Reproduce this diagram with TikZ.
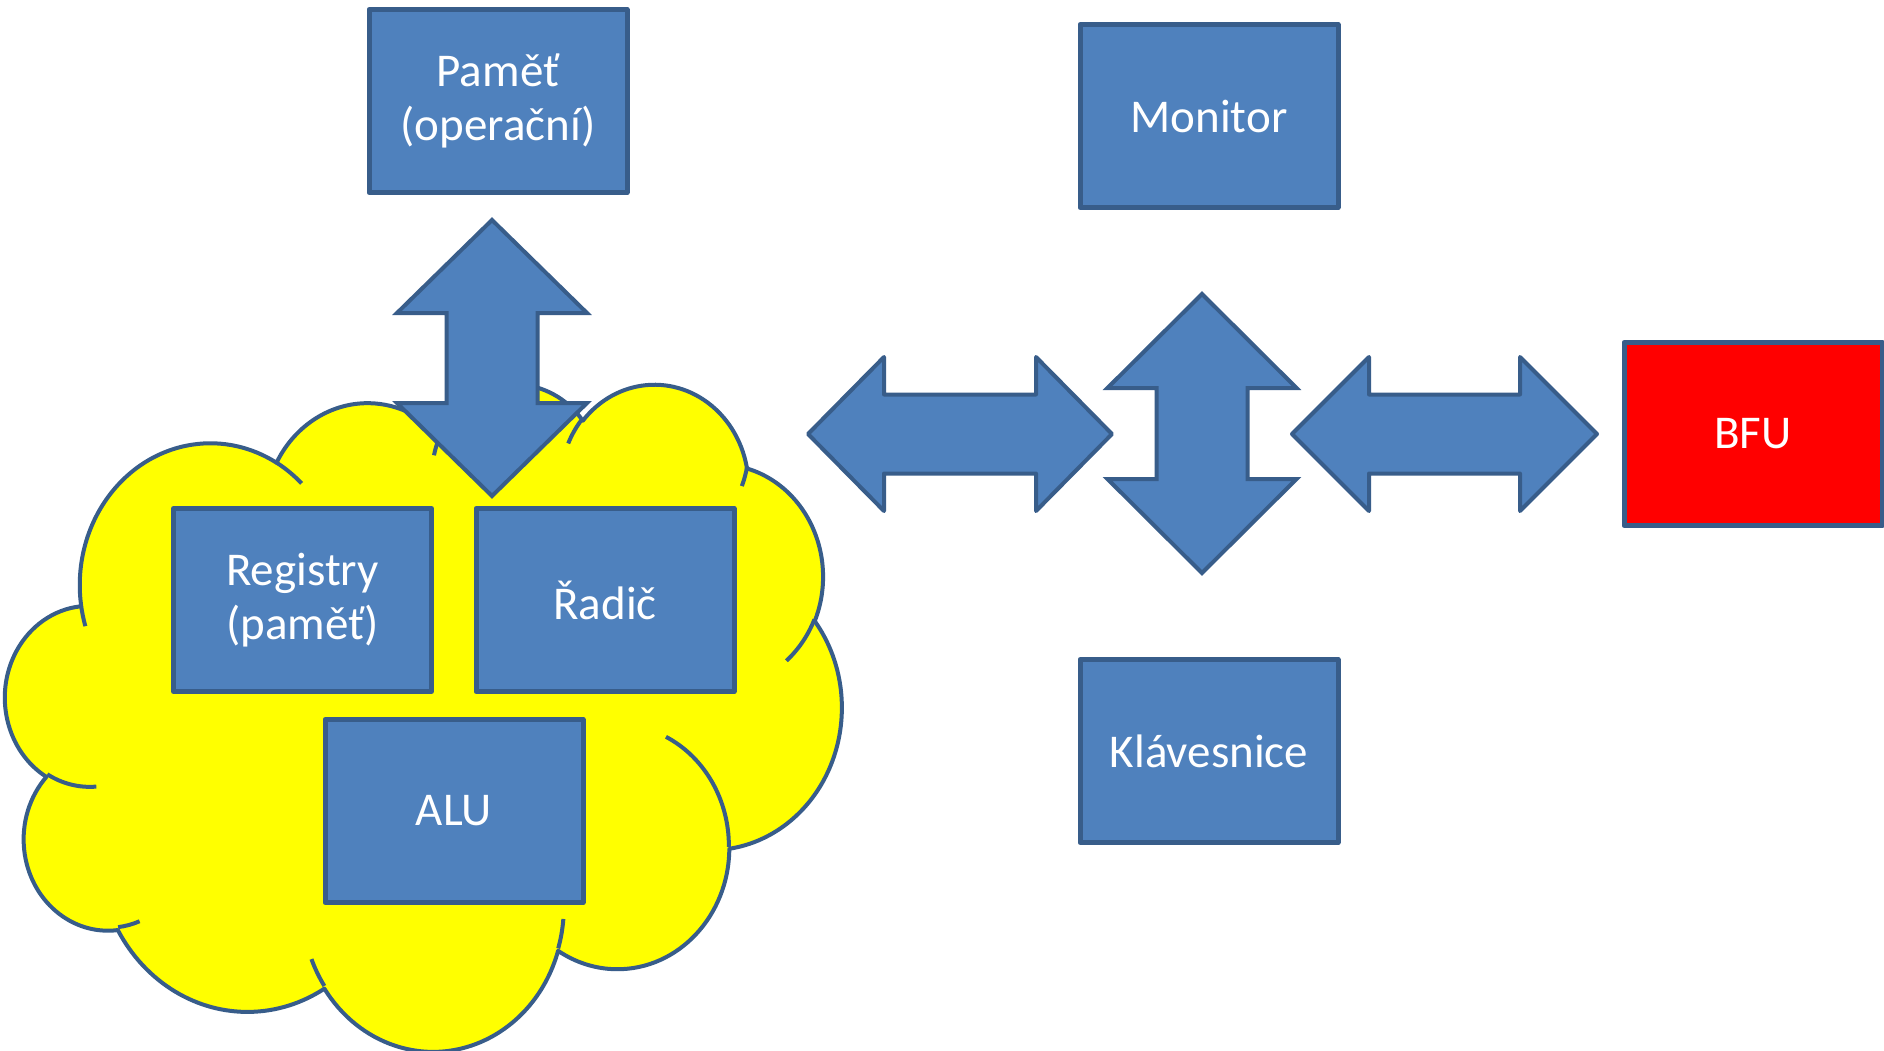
\documentclass[tikz,border=0pt]{standalone}
\usepackage{fontspec}
\setmainfont{Carlito}
\definecolor{boxfill}{HTML}{4F81BD}
\definecolor{boxline}{HTML}{385D8A}
\definecolor{cloudfill}{HTML}{FFFF00}
\definecolor{userfill}{HTML}{FF0000}

% Cloud outline: elliptic arcs given by radii (in thousands of shape units)
% and start/sweep angles measured as visual angles, converted here to the
% parametric angles that TikZ arcs expect.
\def\cldsx{19.352}
\def\cldsy{15.44}
\newcommand\cldprep[5]{%
  \pgfmathsetmacro\cldta{#4}%
  \pgfmathsetmacro\cldtb{#4+#5}%
  \pgfmathsetmacro\cldpa{-(\cldta+mod(atan2(#2*sin(\cldta),#3*cos(\cldta))-\cldta+540,360)-180)}%
  \pgfmathsetmacro\cldpb{-(\cldtb+mod(atan2(#2*sin(\cldtb),#3*cos(\cldtb))-\cldtb+540,360)-180)}%
  \pgfmathsetmacro\cldrx{#2*\cldsx}%
  \pgfmathsetmacro\cldry{#3*\cldsy}%
  \expandafter\xdef\csname #1\endcsname{arc[start angle=\cldpa, end angle=\cldpb, x radius=\cldrx pt, y radius=\cldry pt]}%
}

\tikzset{
  unit/.style={draw=boxline, fill=boxfill, line width=5pt, line join=round,
    minimum width=258pt, minimum height=183pt, inner sep=0pt,
    text=white, align=center, font=\fontsize{47}{54}\selectfont},
  blockarrow/.style={draw=boxline, fill=boxfill, line width=4pt, line join=miter},
  cloudshape/.style={draw=boxline, line width=4pt, line join=round},
  % double-headed block arrows: half length, head length, head half-width, shaft half-width
  pics/vdarrow/.style n args={4}{code={
    \draw[blockarrow] (0,-#1) -- (#3,{-#1+#2}) -- (#4,{-#1+#2}) -- (#4,{#1-#2})
      -- (#3,{#1-#2}) -- (0,#1) -- (-#3,{#1-#2}) -- (-#4,{#1-#2})
      -- (-#4,{-#1+#2}) -- (-#3,{-#1+#2}) -- cycle;
  }},
  pics/hdarrow/.style n args={4}{code={
    \draw[blockarrow, line join=round] (-#1,0) -- ({-#1+#2},-#3) -- ({-#1+#2},-#4) -- ({#1-#2},-#4)
      -- ({#1-#2},-#3) -- (#1,0) -- ({#1-#2},#3) -- ({#1-#2},#4)
      -- ({-#1+#2},#4) -- ({-#1+#2},#3) -- cycle;
  }},
}

\begin{document}
\begin{tikzpicture}[x=1pt, y=-1pt]
\useasboundingbox (0,0) rectangle (1884,1050);
\fill[white] (0,0) rectangle (1884,1050);

% outer arcs of the cloud
\cldprep{cldarcA}{6.753}{9.190}{-190.48748}{123.78053}
\cldprep{cldarcB}{5.333}{7.267}{-144.10238}{89.94523}
\cldprep{cldarcC}{4.365}{5.945}{-145.80792}{99.72302}
\cldprep{cldarcD}{4.857}{6.595}{-130.98607}{117.24173}
\cldprep{cldarcE}{5.333}{7.273}{-78.70888}{109.02692}
\cldprep{cldarcF}{6.775}{9.220}{-46.26725}{130.26900}
\cldprep{cldarcG}{5.785}{7.867}{0.62502}{114.03333}
\cldprep{cldarcH}{6.752}{9.215}{22.45160}{115.17255}
\cldprep{cldarcI}{7.720}{10.543}{66.24263}{75.71102}
\cldprep{cldarcJ}{4.360}{5.918}{-274.94208}{146.73557}
\cldprep{cldarcK}{4.345}{5.945}{-246.82850}{152.51885}
% inner strokes of the cloud
\cldprep{cldinA}{4.345}{5.945}{86.74200}{26.42950}
\cldprep{cldinB}{4.360}{5.918}{73.61047}{11.44747}
\cldprep{cldinC}{6.752}{9.215}{137.62415}{14.08110}
\cldprep{cldinD}{6.752}{9.215}{6.45327}{15.99835}
\cldprep{cldinE}{5.785}{7.867}{-70.29235}{70.91737}
\cldprep{cldinF}{5.333}{7.273}{30.31803}{27.75150}
\cldprep{cldinG}{4.857}{6.595}{13.74433}{14.85890}
\cldprep{cldinH}{4.857}{6.595}{-149.18145}{18.19537}
\cldprep{cldinI}{4.365}{5.945}{-163.49427}{17.68635}
\cldprep{cldinJ}{6.753}{9.190}{-66.70695}{12.31935}
\cldprep{cldinK}{6.753}{9.190}{157.65435}{11.85817}

\begin{scope}[shift={(5.5,382.4)}, x=19.352pt, y=-15.44pt]
  \filldraw[cloudshape, fill=cloudfill] (3.900,14.370)
    \cldarcA \cldarcB \cldarcC \cldarcD \cldarcE \cldarcF
    \cldarcG \cldarcH \cldarcI \cldarcJ \cldarcK -- cycle;
  \draw[cloudshape]
    (4.693,26.177) \cldinA
    (6.928,34.899) \cldinB
    (16.478,39.090) \cldinC
    (28.827,34.751) \cldinD
    (34.129,22.954) \cldinE
    (41.798,15.354) \cldinF
    (38.324,5.426) \cldinG
    (29.078,3.952) \cldinH
    (22.141,4.720) \cldinI
    (14.000,5.192) \cldinJ
    (4.127,15.789) \cldinK;
\end{scope}

% processor parts inside the cloud
\node[unit] (reg)  at (302.5,600) {Registry\\(paměť)};
\node[unit] (ctrl) at (605,600) {Řadič};
\node[unit] (alu)  at (454,811) {ALU};

% bus between memory and processor
\pic (membus) at (492,358) {vdarrow={138}{93}{95}{45.5}};

% peripherals
\node[unit] (mem)     at (498,101) {Paměť\\(operační)};
\node[unit] (monitor) at (1209,116) {Monitor};
\node[unit] (kbd)     at (1209,751) {Klávesnice};
\node[unit, fill=userfill] (user) at (1753,434) {BFU};

% input/output arrows
\pic (iohub)  at (1202,433.5) {vdarrow={139.5}{94}{94.5}{45.5}};
\pic (cpuio)  at (960,434)    {hdarrow={152}{76}{77}{39.5}};
\pic (userio) at (1444.5,434) {hdarrow={152.5}{77}{77}{39.5}};
\end{tikzpicture}
\end{document}
